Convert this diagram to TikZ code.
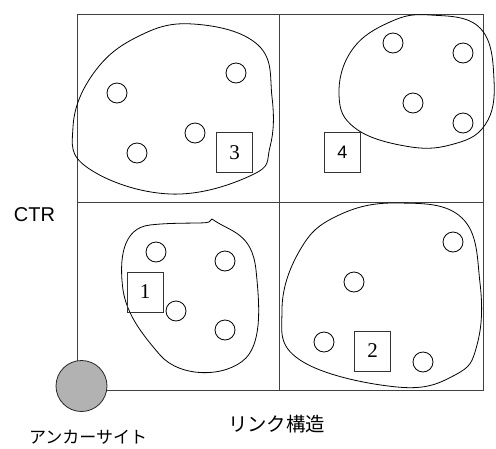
\documentclass[tikz,border=0pt]{standalone}
\usepackage{fontspec}
\setmainfont{Liberation Serif}
\setsansfont{Liberation Sans}
\newfontfamily\jpfont{Noto Sans CJK JP}
\begin{document}
\begin{tikzpicture}[x=1pt,y=-1pt,
  frame/.style={draw=black!75,line width=0.9pt},
  blob/.style={draw=black,line width=0.8pt},
  pt/.style={circle,draw=black,line width=0.8pt,minimum size=20pt,inner sep=0pt},
  numbox/.style={draw=black!80,line width=0.8pt,minimum width=36pt,minimum height=40pt,inner sep=0pt,font=\fontsize{21}{21}\selectfont},
  lbl/.style={inner sep=0pt}]
\useasboundingbox (0,0) rectangle (496,448);
% frame
\draw[frame] (77,14) rectangle (483,390);
\draw[frame] (279,14) -- (279,390);
\draw[frame] (77,202) -- (483,202);
% blobs
\draw[blob] plot[smooth cycle,tension=0.7] coordinates {(193,24) (258,45) (272,97) (270,147) (252,175) (170,194) (88,168) (73,127) (93,74) (137,37)};
\draw[blob] plot[smooth cycle,tension=0.7] coordinates {(430,15) (480,28) (494,80) (485,125) (450,145) (405,146) (355,128) (339,95) (352,50) (390,22)};
\draw[blob] (212,219) .. controls (230,232) and (252,232) .. (256,270)
  .. controls (259,300) and (263,340) .. (246,358)
  .. controls (226,378) and (180,378) .. (160,355)
  .. controls (142,334) and (127,315) .. (123,290)
  .. controls (119,260) and (122,228) .. (150,225)
  .. controls (175,222) and (205,224) .. (209,222) -- cycle;
\draw[blob] plot[smooth cycle,tension=0.7] coordinates {(397,203) (462,218) (480,283) (477,345) (455,375) (397,387) (300,360) (282,310) (300,250) (337,216)};
% points Q3
\node[pt] (a1) at (117,93) {};
\node[pt] (a2) at (236,73) {};
\node[pt] (a3) at (195,133) {};
\node[pt] (a4) at (137,153) {};
\node[numbox] (b3) at (234.5,152.5) {3};
% Q4
\node[pt] (c1) at (393,43) {};
\node[pt] (c2) at (463,53) {};
\node[pt] (c3) at (413,103) {};
\node[pt] (c4) at (463,123) {};
\node[numbox,font=\sffamily\fontsize{18}{18}\selectfont] (b4) at (342.5,152.5) {4};
% Q1
\node[pt] (d1) at (156,252) {};
\node[pt] (d2) at (225,261) {};
\node[pt] (d3) at (176,311) {};
\node[pt] (d4) at (225,330) {};
\node[numbox] (b1) at (145,292) {1};
% Q2
\node[pt] (e1) at (453,242) {};
\node[pt] (e2) at (354,282) {};
\node[pt] (e3) at (324,342) {};
\node[pt] (e4) at (423,362) {};
\node[numbox] (b2) at (372.5,351) {2};
% anchor
\node[circle,draw=black!85,fill=black!30,line width=0.8pt,minimum size=51pt,inner sep=0pt] (anc) at (81.5,386) {};
% labels
\node[lbl,font=\sffamily\fontsize{20}{20}\selectfont] (ctr) at (34.5,215) {CTR};
\node[lbl,font=\jpfont\fontsize{19.4}{19.4}\selectfont] (link) at (276.5,424) {リンク構造};
\node[lbl,font=\jpfont\fontsize{17}{17}\selectfont] (site) at (88,437) {アンカーサイト};
\end{tikzpicture}
\end{document}
